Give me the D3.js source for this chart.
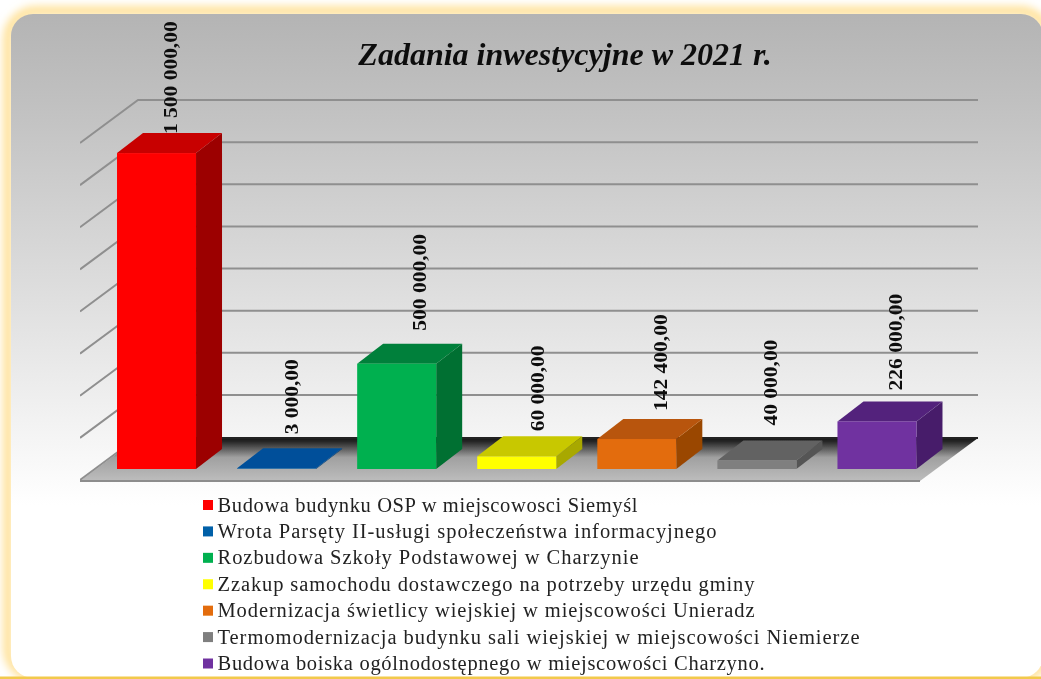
<!DOCTYPE html>
<html><head><meta charset="utf-8">
<script src="https://cdn.jsdelivr.net/npm/d3@7"></script>
<style>html,body{margin:0;padding:0;background:#fff;overflow:hidden}svg{display:block}</style>
</head><body><div id="chart"></div>
<script>
const categories=["Budowa budynku OSP w miejscowosci Siemyśl","Wrota Parsęty II-usługi społeczeństwa informacyjnego","Rozbudowa Szkoły Podstawowej w Charzynie","Zzakup samochodu dostawczego na potrzeby urzędu gminy","Modernizacja świetlicy wiejskiej w miejscowości Unieradz","Termomodernizacja budynku sali wiejskiej w miejscowości Niemierze","Budowa boiska ogólnodostępnego w miejscowości Charzyno."];
const values=[1500000,3000,500000,60000,142400,40000,226000];
const valueLabels=["1 500 000,00","3 000,00","500 000,00","60 000,00","142 400,00","40 000,00","226 000,00"];
const frontColors=["#ff0000","#0060a8","#00b050","#ffff00","#e36c0a","#7f7f7f","#7030a0"];
const topColors=["#c80000","#00509a","#00803a","#c8c800","#b85508","#626262","#53247c"];
const sideColors=["#9c0000","#003f78","#006f31","#a8a800","#9a4706","#555555","#471f6b"];
const gridTicks=d3.range(0,1600001,200000);
const title="Zadania inwestycyjne w 2021 r.";

const W=1041,H=679;
const svg=d3.select("#chart").append("svg").attr("width",W).attr("height",H);
const defs=svg.append("defs");
const g1=defs.append("linearGradient").attr("id","panel").attr("x1",0).attr("y1",0).attr("x2",0).attr("y2",1);
[[0,"#b4b4b4"],[0.13,"#c0c0c0"],[0.43,"#dfdfdf"],[0.63,"#f4f4f4"],[0.74,"#ffffff"],[1,"#ffffff"]].forEach(d=>g1.append("stop").attr("offset",d[0]).attr("stop-color",d[1]));
const g2=defs.append("linearGradient").attr("id","floor").attr("x1",0).attr("y1",0).attr("x2",0).attr("y2",1);
[[0,"#111"],[0.12,"#333"],[0.45,"#a0a0a0"],[1,"#bdbdbd"]].forEach(d=>g2.append("stop").attr("offset",d[0]).attr("stop-color",d[1]));
const blur=defs.append("filter").attr("id","glow").attr("x","-5%").attr("y","-5%").attr("width","110%").attr("height","110%");
blur.append("feGaussianBlur").attr("stdDeviation",4);
const soft=defs.append("filter").attr("id","soft").attr("x",0).attr("y",0).attr("width","100%").attr("height","100%");
soft.append("feGaussianBlur").attr("stdDeviation",0.5);

// frame
svg.append("rect").attr("x",8).attr("y",11).attr("width",1040).attr("height",666).attr("rx",28).attr("fill","none").attr("stroke","#ffdf90").attr("stroke-width",9).attr("filter","url(#glow)");
svg.append("rect").attr("x",11).attr("y",14).attr("width",1032).attr("height",664).attr("rx",22).attr("fill","url(#panel)");
svg.append("rect").attr("x",0).attr("y",676.5).attr("width",W).attr("height",2.5).attr("fill","#f2c94c");

const root=svg.append("g").attr("filter","url(#soft)");

// scales
const x=d3.scaleBand().domain(d3.range(values.length)).range([97,936.5]).paddingInner(0.342).paddingOuter(0.1667);
const y=d3.scaleLinear().domain([0,1600000]).range([469,132]);
const dx=26,dy=-20;            // bar depth
const backX=138,backRight=978,backBase=438; // back wall
const wallY=d3.scaleLinear().domain([0,1600000]).range([437,100]);
const sideDx=-58,sideDy=43;

// floor
root.append("path").attr("d",`M${backX+sideDx},${backBase+sideDy}L${backX},${backBase}L${backRight},${backBase}L${backRight+sideDx},${backBase+sideDy}Z`).attr("fill","url(#floor)");
root.append("line").attr("x1",backX+sideDx).attr("x2",backRight+sideDx).attr("y1",backBase+sideDy).attr("y2",backBase+sideDy).attr("stroke","#8c8c8c").attr("stroke-width",2);

// grid
const grid=root.append("g").attr("fill","none").attr("stroke","#8f8f8f").attr("stroke-width",2);
gridTicks.slice(1).forEach(t=>{
  grid.append("path").attr("d",`M${backX+sideDx},${wallY(t)+sideDy}L${backX},${wallY(t)}L${backRight},${wallY(t)}`);
});
grid.append("path").attr("d",`M${backX+sideDx},${wallY(0)+sideDy}L${backX},${wallY(0)}`);
root.append("line").attr("x1",backX).attr("x2",backRight).attr("y1",438).attr("y2",438).attr("stroke","#222").attr("stroke-width",2);

// value labels (manually placed in the source chart; drawn behind the bars)
const labelNudgeX=[-16,-14.5,-7,-9,-6,-16,-10.5];
const labelNudgeY=[11,-4,-3,5,2,-5,-1];
root.append("g").selectAll("text").data(values).join("text")
  .attr("transform",(v,i)=>`translate(${x(i)+x.bandwidth()/2+36+labelNudgeX[i]},${y(v)+dy-10+labelNudgeY[i]}) rotate(-90) scale(1,0.9)`)
  .attr("font-family","'Liberation Serif'").attr("font-weight","bold").attr("font-size",21.5).attr("fill","#111")
  .text((v,i)=>valueLabels[i]);

// bars
const bars=root.append("g").selectAll("g").data(values).join("g");
bars.each(function(v,i){
  const g=d3.select(this),x0=x(i),w=x.bandwidth(),t=y(v),b=y(0);
  g.append("path").attr("d",`M${x0+w},${t}L${x0+w+dx},${t+dy}L${x0+w+dx},${b+dy}L${x0+w},${b}Z`).attr("fill",sideColors[i]);
  g.append("path").attr("d",`M${x0},${t}L${x0+dx},${t+dy}L${x0+w+dx},${t+dy}L${x0+w},${t}Z`).attr("fill",topColors[i]);
  g.append("rect").attr("x",x0).attr("y",t).attr("width",w).attr("height",b-t).attr("fill",frontColors[i]);
});

// title
root.append("text").attr("x",565).attr("y",65).attr("text-anchor","middle").attr("font-family","'Liberation Serif'").attr("font-weight","bold").attr("font-style","italic").attr("font-size",32).attr("fill","#111").text(title);

// legend
const legendWidths=[420,499,421,537,537,642,547];
const ly=d3.scalePoint().domain(d3.range(categories.length)).range([505,663.5]);
const leg=root.append("g").selectAll("g").data(categories).join("g").attr("transform",(d,i)=>`translate(203,${ly(i)})`);
leg.append("rect").attr("x",0).attr("y",-5).attr("width",10).attr("height",10).attr("fill",(d,i)=>frontColors[i]);
leg.append("text").attr("x",14.5).attr("y",6.5).attr("font-family","'Liberation Serif'").attr("font-size",20.5)
  .attr("textLength",(d,i)=>legendWidths[i]).attr("lengthAdjust","spacing").attr("fill","#222").text(d=>d);
</script></body></html>
